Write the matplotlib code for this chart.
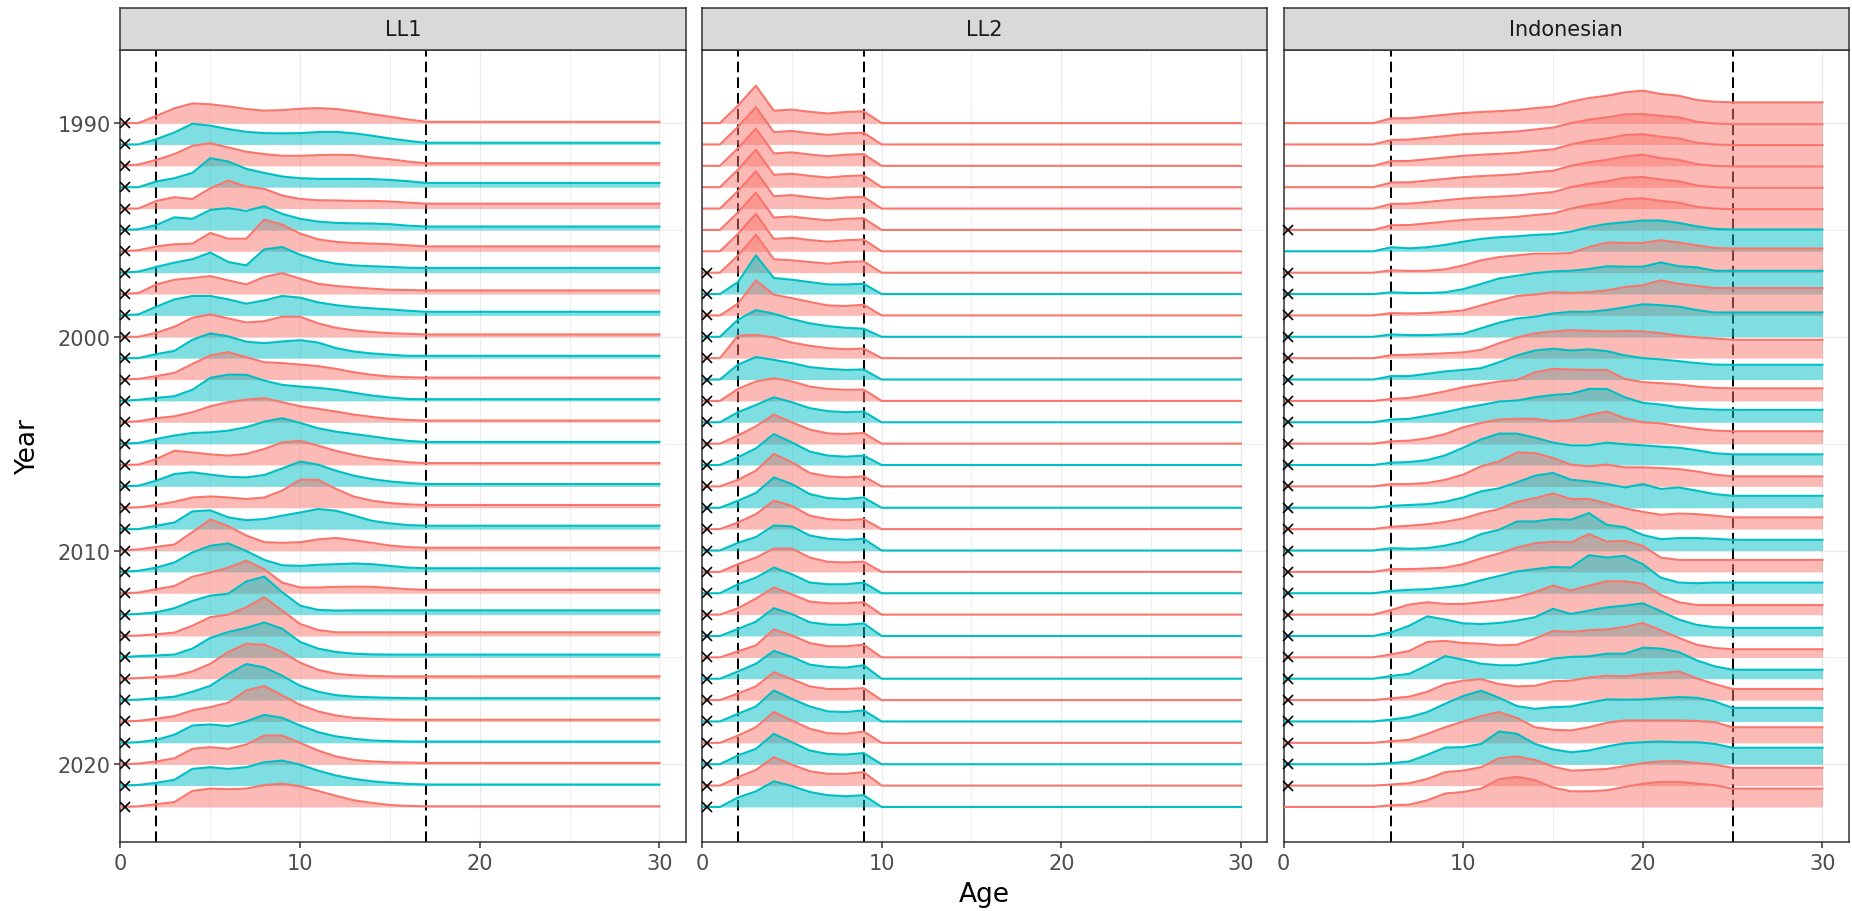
import matplotlib
matplotlib.use("Agg")
import matplotlib.pyplot as plt
import numpy as np

RED = "#F8766D"
TEAL = "#00BFC4"

years = list(range(1990, 2023))
ages = list(range(0, 31))

ll1 = [
    [0, 0, .34, .69, .92, .88, .78, .66, .58, .61, .67, .70, .66, .55, .42, .30, .17, .06],
    [0, 0, .25, .56, .97, .88, .72, .59, .53, .52, .53, .58, .59, .52, .41, .28, .17, .08],
    [0, .06, .28, .55, .94, 1.06, .86, .66, .55, .47, .47, .5, .52, .5, .39, .31, .2, .12],
    [0, 0, .27, .42, .67, 1.36, 1.2, .86, .67, .5, .42, .39, .39, .39, .38, .34, .28, .2],
    [0, 0, .36, .53, .45, .95, 1.31, 1.03, .92, .61, .45, .39, .38, .36, .36, .33, .28, .23],
    [0, .03, .23, .59, .52, .94, 1.02, .89, 1.11, .75, .52, .39, .33, .31, .3, .27, .2, .16],
    [0, .05, .23, .33, .36, .86, .59, .59, 1.48, 1.25, .83, .56, .44, .39, .36, .33, .28, .23],
    [0, .05, .27, .47, .63, .94, .5, .34, 1.09, 1.2, .84, .58, .42, .34, .3, .27, .23, .22],
    [0, .05, .45, .67, .75, .84, .64, .45, .8, .98, .72, .48, .38, .31, .25, .2, .19, .17],
    [0, .05, .41, .75, .91, .91, .75, .55, .7, .91, .83, .61, .48, .39, .33, .28, .22, .17],
    [0, 0, .19, .47, .89, 1.05, .86, .67, .73, .94, .94, .63, .42, .3, .22, .17, .14, .11],
    [0, 0, .19, .34, .86, 1.16, 1.02, .77, .7, .78, .84, .73, .47, .31, .22, .16, .11, .11],
    [0, .03, .16, .31, .73, 1.13, 1.28, 1.05, .81, .77, .7, .63, .5, .34, .22, .14, .11, .09],
    [0, .05, .14, .22, .52, 1.08, 1.23, 1.22, .95, .75, .67, .61, .52, .38, .25, .16, .09, .08],
    [0, .05, .19, .28, .47, .75, .94, 1.06, 1.13, .94, .75, .63, .5, .36, .25, .16, .11, .08],
    [0, .03, .22, .38, .5, .53, .61, .77, 1.03, 1.19, .97, .72, .56, .45, .34, .22, .13, .08],
    [0, .02, .28, .67, .59, .5, .44, .52, .75, 1.06, 1.13, .91, .66, .47, .31, .22, .13, .09],
    [0, .03, .27, .58, .66, .55, .45, .42, .53, .84, 1.16, 1.02, .73, .5, .34, .23, .16, .11],
    [0, .02, .13, .28, .48, .53, .48, .41, .48, .8, 1.31, 1.31, .88, .52, .33, .22, .16, .13],
    [0, 0, .16, .31, .83, .88, .55, .42, .47, .63, .78, .94, .86, .63, .39, .27, .19, .16],
    [0, .05, .17, .28, .86, 1.45, 1.14, .7, .39, .36, .39, .52, .59, .48, .36, .23, .16, .13],
    [0, .05, .2, .44, .91, 1.22, 1.33, .98, .56, .31, .28, .33, .36, .39, .36, .28, .2, .17],
    [0, .03, .19, .34, .77, .97, 1.2, 1.52, 1.13, .5, .27, .27, .3, .31, .3, .25, .19, .16],
    [0, .03, .11, .3, .64, .89, .98, 1.55, 1.78, 1.05, .42, .22, .19, .2, .2, .2, .2, .2],
    [0, .02, .08, .16, .48, .88, 1.0, 1.34, 1.81, 1.19, .56, .28, .17, .17, .17, .17, .17, .17],
    [0, .06, .09, .13, .41, .91, 1.19, 1.38, 1.63, 1.34, .72, .41, .25, .17, .14, .13, .13, .13],
    [0, .03, .08, .13, .34, .7, 1.25, 1.64, 1.59, 1.25, .75, .42, .23, .16, .13, .11, .11, .11],
    [0, .02, .09, .16, .39, .67, 1.22, 1.69, 1.53, 1.14, .67, .39, .23, .16, .13, .11, .09, .09],
    [0, .03, .13, .25, .52, .67, .88, 1.45, 1.66, 1.22, .78, .47, .28, .17, .13, .09, .08, .08],
    [0, .03, .14, .38, .81, .86, .78, 1.0, 1.31, 1.17, .81, .5, .3, .19, .11, .08, .06, .06],
    [0, .03, .13, .28, .72, .8, .72, .92, 1.34, 1.34, 1.0, .64, .36, .2, .13, .09, .08, .06],
    [0, .03, .13, .27, .78, .86, .78, .86, 1.09, 1.17, .98, .7, .47, .31, .2, .13, .08, .05],
    [0, .03, .13, .23, .75, .86, .83, .86, 1.02, 1.09, .97, .75, .52, .31, .19, .09, .05, .03],
]

ll2 = [
    [0, 0, .82, 1.75, .58, .63, .53, .45, .52, .55, 0],
    [0, 0, .82, 1.75, .58, .63, .53, .45, .52, .55, 0],
    [0, 0, .82, 1.75, .58, .63, .53, .45, .52, .55, 0],
    [0, 0, .82, 1.75, .58, .63, .53, .45, .52, .55, 0],
    [0, 0, .82, 1.75, .58, .63, .53, .45, .52, .55, 0],
    [0, 0, .82, 1.75, .58, .63, .53, .45, .52, .55, 0],
    [0, 0, .82, 1.75, .58, .63, .53, .45, .52, .55, 0],
    [0, 0, .8, 1.78, .63, .58, .5, .42, .5, .53, 0],
    [0, 0, .56, 1.81, .75, .67, .56, .45, .45, .48, 0],
    [0, 0, .55, 1.64, .97, .81, .63, .47, .44, .5, 0],
    [0, 0, .8, 1.25, 1.08, .83, .63, .5, .42, .38, 0],
    [0, 0, 1.05, 1.09, .97, .73, .58, .47, .42, .45, 0],
    [0, 0, .7, 1.05, .92, .77, .58, .5, .45, .47, 0],
    [0, 0, .56, .91, 1.06, .91, .67, .56, .52, .53, 0],
    [0, 0, .47, .81, 1.17, .94, .66, .52, .47, .5, 0],
    [0, 0, .38, .81, 1.36, 1.0, .66, .48, .45, .5, 0],
    [0, 0, .36, .78, 1.45, 1.06, .63, .44, .39, .44, 0],
    [0, 0, .31, .73, 1.52, 1.13, .63, .47, .42, .47, 0],
    [0, 0, .33, .69, 1.42, 1.11, .64, .45, .41, .48, 0],
    [0, 0, .31, .7, 1.33, 1.09, .63, .47, .42, .47, 0],
    [0, 0, .36, .63, 1.17, 1.13, .7, .55, .5, .55, 0],
    [0, 0, .36, .67, 1.09, 1.09, .67, .47, .44, .48, 0],
    [0, 0, .42, .73, 1.2, .89, .5, .42, .42, .5, 0],
    [0, 0, .3, .75, 1.27, .95, .61, .53, .53, .58, 0],
    [0, 0, .33, .67, 1.3, 1.03, .64, .53, .52, .59, 0],
    [0, 0, .28, .56, 1.31, 1.03, .67, .52, .52, .59, 0],
    [0, 0, .34, .7, 1.3, 1.02, .66, .55, .52, .63, 0],
    [0, 0, .31, .64, 1.3, .98, .64, .52, .52, .56, 0],
    [0, 0, .36, .7, 1.45, 1.06, .7, .47, .44, .52, 0],
    [0, 0, .34, .73, 1.44, 1.05, .66, .45, .42, .53, 0],
    [0, 0, .41, .72, 1.42, 1.03, .64, .48, .45, .52, 0],
    [0, 0, .39, .73, 1.33, .98, .67, .55, .55, .63, 0],
    [0, 0, .44, .73, 1.2, .98, .7, .55, .5, .55, 0],
]

indo = [
    [0, 0, 0, 0, 0, 0, .22, .23, .31, .39, .47, .52, .56, .61, .7, .77, 1.0, 1.17, 1.28, 1.44, 1.52, 1.36, 1.28, 1.08, 1.0, .97],
    [0, 0, 0, 0, 0, 0, .21, .23, .31, .39, .48, .52, .56, .61, .7, .79, 1.0, 1.16, 1.27, 1.41, 1.42, 1.34, 1.27, 1.06, .98, .95],
    [0, 0, 0, 0, 0, 0, .22, .23, .31, .39, .47, .52, .56, .61, .7, .77, 1.0, 1.17, 1.28, 1.44, 1.48, 1.36, 1.28, 1.08, 1.0, .97],
    [0, 0, 0, 0, 0, 0, .22, .23, .31, .39, .47, .52, .56, .61, .7, .77, 1.0, 1.17, 1.28, 1.44, 1.52, 1.36, 1.28, 1.08, 1.0, .97],
    [0, 0, 0, 0, 0, 0, .22, .23, .31, .39, .47, .52, .56, .61, .7, .77, 1.0, 1.17, 1.28, 1.44, 1.48, 1.36, 1.28, 1.08, 1.0, .97],
    [0, 0, 0, 0, 0, 0, .22, .23, .31, .39, .47, .52, .56, .61, .7, .77, 1.0, 1.17, 1.28, 1.44, 1.48, 1.36, 1.28, 1.08, 1.0, .97],
    [0, 0, 0, 0, 0, 0, .19, .14, .19, .3, .45, .58, .66, .7, .77, .8, .92, 1.13, 1.28, 1.36, 1.44, 1.44, 1.33, 1.17, 1.05, 1.02],
    [0, 0, 0, 0, 0, 0, .11, .08, .09, .16, .34, .58, .73, .81, .89, .89, .92, 1.2, 1.41, 1.39, 1.39, 1.52, 1.41, 1.28, 1.16, 1.13],
    [0, 0, 0, 0, 0, 0, .08, .05, .05, .08, .23, .47, .73, .86, .98, 1.06, 1.09, 1.17, 1.3, 1.28, 1.28, 1.48, 1.3, 1.25, 1.09, 1.09],
    [0, 0, 0, 0, 0, 0, .11, .09, .11, .16, .23, .47, .7, .91, .98, 1.09, 1.05, 1.09, 1.17, 1.33, 1.41, 1.64, 1.48, 1.38, 1.28, 1.28],
    [0, 0, 0, 0, 0, 0, .11, .08, .08, .11, .14, .4, .66, .86, .94, 1.09, 1.17, 1.17, 1.25, 1.38, 1.52, 1.48, 1.41, 1.25, 1.14, 1.14],
    [0, 0, 0, 0, 0, 0, .14, .16, .19, .23, .27, .39, .7, .97, 1.16, 1.25, 1.31, 1.28, 1.25, 1.28, 1.25, 1.17, 1.05, .97, .92, .86],
    [0, 0, 0, 0, 0, 0, .16, .16, .27, .38, .45, .53, .81, 1.13, 1.36, 1.44, 1.36, 1.41, 1.33, 1.13, 1.0, .94, .86, .77, .7, .69],
    [0, 0, 0, 0, 0, 0, .09, .14, .28, .45, .64, .77, .91, .98, 1.34, 1.5, 1.47, 1.45, 1.45, 1.03, .88, .83, .77, .67, .61, .59],
    [0, 0, 0, 0, 0, 0, .13, .16, .31, .47, .66, .81, .97, 1.02, 1.17, 1.28, 1.33, 1.56, 1.56, 1.17, .91, .83, .7, .63, .59, .58],
    [0, 0, 0, 0, 0, 0, .11, .14, .25, .45, .77, .97, 1.13, 1.16, 1.16, 1.05, 1.11, 1.34, 1.5, 1.19, 1.0, .95, .81, .69, .61, .58],
    [0, 0, 0, 0, 0, 0, .11, .14, .23, .45, .81, 1.2, 1.47, 1.47, 1.28, 1.05, .92, .92, 1.05, .97, .92, .86, .81, .69, .55, .5],
    [0, 0, 0, 0, 0, 0, .11, .11, .16, .31, .55, .94, 1.17, 1.59, 1.56, 1.33, 1.02, .94, 1.02, .89, .89, .86, .81, .7, .55, .47],
    [0, 0, 0, 0, 0, 0, .09, .13, .17, .28, .48, .77, .91, 1.19, 1.5, 1.63, 1.31, 1.23, 1.11, .95, 1.11, .88, .95, .8, .64, .56],
    [0, 0, 0, 0, 0, 0, .11, .16, .23, .34, .5, .75, .94, 1.28, 1.45, 1.67, 1.41, 1.41, 1.2, .97, .81, .67, .73, .7, .63, .55],
    [0, 0, 0, 0, 0, 0, .11, .08, .11, .23, .42, .77, .97, 1.36, 1.36, 1.47, 1.44, 1.75, 1.2, 1.09, .73, .53, .58, .58, .55, .5],
    [0, 0, 0, 0, 0, 0, .13, .13, .16, .2, .36, .63, .86, 1.14, 1.34, 1.41, 1.38, 1.77, 1.42, 1.45, 1.22, .67, .56, .56, .56, .56],
    [0, 0, 0, 0, 0, 0, .11, .16, .19, .27, .38, .61, .81, 1.02, 1.13, 1.23, 1.2, 1.78, 1.67, 1.75, 1.36, .73, .5, .47, .5, .5],
    [0, 0, 0, 0, 0, 0, .22, .47, .58, .5, .5, .58, .67, .81, 1.05, 1.36, 1.13, 1.36, 1.56, 1.56, 1.44, .92, .58, .45, .45, .45],
    [0, 0, 0, 0, 0, 0, .17, .48, .92, .77, .59, .56, .61, .72, .88, 1.27, 1.03, 1.19, 1.34, 1.42, 1.53, 1.16, .77, .52, .41, .38],
    [0, 0, 0, 0, 0, 0, .14, .3, .72, .77, .67, .64, .56, .59, .88, 1.23, 1.19, 1.27, 1.31, 1.42, 1.61, 1.27, .91, .59, .44, .38],
    [0, 0, 0, 0, 0, 0, .13, .23, .63, 1.06, .89, .7, .63, .63, .75, .94, 1.02, 1.05, 1.17, 1.17, 1.45, 1.41, 1.25, .86, .58, .42],
    [0, 0, 0, 0, 0, 0, .08, .16, .39, .75, .91, .98, .75, .64, .67, .88, .91, 1.06, 1.14, 1.11, 1.22, 1.27, 1.34, 1.02, .75, .52],
    [0, 0, 0, 0, 0, 0, .09, .2, .44, .83, 1.19, 1.44, 1.11, .72, .59, .67, .7, .88, 1.03, 1.02, 1.03, 1.09, 1.14, 1.11, .94, .63],
    [0, 0, 0, 0, 0, 0, .08, .14, .42, .73, 1.0, 1.25, 1.44, 1.16, .73, .61, .58, .73, .94, 1.05, 1.05, 1.05, 1.05, 1.02, .97, .73],
    [0, 0, 0, 0, 0, 0, .05, .13, .44, .78, .8, .95, 1.53, 1.42, .95, .69, .56, .64, .83, .98, 1.03, 1.06, 1.03, 1.03, .95, .77],
    [0, 0, 0, 0, 0, 0, .05, .11, .31, .63, .7, .86, 1.28, 1.36, 1.2, .89, .7, .73, .78, .91, 1.05, 1.13, 1.14, 1.06, .98, .83],
    [0, 0, 0, 0, 0, 0, .08, .11, .31, .63, .7, .86, 1.3, 1.41, 1.25, .91, .73, .73, .78, .94, 1.09, 1.17, 1.17, 1.09, 1.02, .86],
]

# fill colour per year (R = red, T = teal)
ll1_fill = "RTRTRTRTRTRTRTRTRTRTRTRTRTRTRTRTR"
ll2_fill = "RRRRRRRR" + "TRTRTRTRTRTRTRTRTRTRTRTRT"
indo_fill = "RRRRRR" + "TRTRTRTRTRTRTRTRTRTRTRTRTR" + "R"

# years marked with a cross at age 0
ll1_obs = list(range(1990, 2023))
ll2_obs = list(range(1997, 2023))
indo_obs = [1995] + list(range(1997, 2022))

ll1_cuts = [2, 17]
ll2_cuts = [2, 9]
indo_cuts = [6, 25]

panels = [
    ("LL1", ll1, ll1_fill, ll1_obs, ll1_cuts),
    ("LL2", ll2, ll2_fill, ll2_obs, ll2_cuts),
    ("Indonesian", indo, indo_fill, indo_obs, indo_cuts),
]

plt.rcParams["font.family"] = ["DejaVu Sans"]

W, H = 1852, 912
fig = plt.figure(figsize=(W / 100, H / 100), dpi=100)
ptop, pbot = 51, 843
lefts = [120.5, 702, 1283.5]
pw = 565
strip_h = 42

for k, (name, prof, fills, obs, cuts) in enumerate(panels):
    x0 = lefts[k]
    ax = fig.add_axes([x0 / W, (H - pbot) / H, pw / W, (pbot - ptop) / H])
    ax.set_xlim(0, 31.45)
    ax.set_ylim(2023.64, 1986.58)

    # grid
    for gx in [5, 15, 25]:
        ax.axvline(gx, color="#EBEBEB", lw=0.55, zorder=0)
    for gy in [1995, 2005, 2015]:
        ax.axhline(gy, color="#EBEBEB", lw=0.55, zorder=0)
    for gx in [0, 10, 20, 30]:
        ax.axvline(gx, color="#EBEBEB", lw=1.0, zorder=0)
    for gy in [1990, 2000, 2010, 2020]:
        ax.axhline(gy, color="#EBEBEB", lw=1.0, zorder=0)

    for c in cuts:
        ax.axvline(c, color="black", lw=1.45, linestyle=(0, (5.3, 2.5)), zorder=1)

    for i, yr in enumerate(years):
        vals = prof[i] + [prof[i][-1]] * (len(ages) - len(prof[i]))
        top = yr - np.array(vals)
        col = RED if fills[i] == "R" else TEAL
        z = 2 + i * 0.02
        ax.fill_between(ages, yr, top, color=col, alpha=0.5, lw=0, zorder=z)
        ax.plot(ages, top, color=col, lw=1.5, zorder=z + 0.01)

    ax.plot([0.27] * len(obs), obs, linestyle="none", marker="x", color="black",
            ms=6.5, mew=1.2, zorder=10, clip_on=False)

    for s in ax.spines.values():
        s.set_color("#333333")
        s.set_linewidth(1.1)
    ax.set_xticks([0, 10, 20, 30])
    ax.tick_params(axis="x", length=4, width=1.1, color="#333333",
                   labelcolor="#4D4D4D", labelsize=15, pad=4)
    if k == 0:
        ax.set_yticks([1990, 2000, 2010, 2020])
        ax.tick_params(axis="y", length=4, width=1.1, color="#333333",
                       labelcolor="#4D4D4D", labelsize=15, pad=3)
    else:
        ax.set_yticks([])

    sax = fig.add_axes([x0 / W, (H - ptop) / H, pw / W, strip_h / H])
    sax.set_facecolor("#D9D9D9")
    sax.set_xticks([])
    sax.set_yticks([])
    for s in sax.spines.values():
        s.set_color("#333333")
        s.set_linewidth(1.1)
    sax.text(0.5, 0.5, name, ha="center", va="center", fontsize=15,
             color="#1A1A1A", transform=sax.transAxes)

fig.text(984 / W, 1 - 895 / H, "Age", ha="center", va="center", fontsize=19)
fig.text(28 / W, 1 - 447 / H, "Year", ha="center", va="center", fontsize=19,
         rotation=90)

fig.savefig("out.png", dpi=100)
